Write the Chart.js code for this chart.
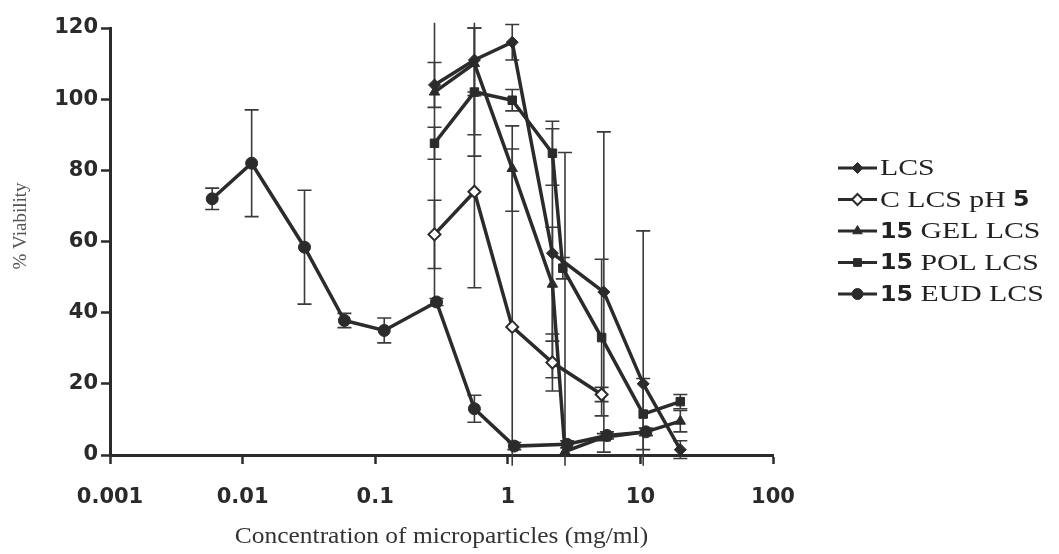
<!DOCTYPE html>
<html>
<head>
<meta charset="utf-8">
<script src="https://cdn.jsdelivr.net/npm/chart.js@4.4.0/dist/chart.umd.min.js"></script>
<style>
  html, body { margin: 0; padding: 0; background: #fff; }
  #wrap { width: 1059px; height: 554px; position: relative; }
</style>
</head>
<body>
<div id="wrap"><canvas id="viability"></canvas></div>
<script>
// concentration (mg/ml), % viability and error for each formulation
const lcsConc = [0.28, 0.56, 1.08, 2.17, 5.3, 10.5, 20];
const lcsVia  = [104, 111, 116, 56.7, 45.8, 20, 1.5];
const lcsErr  = [6.3, 9, 5, 35, 45, 43, 2.5];

const clcsConc = [0.28, 0.56, 1.08, 2.17, 5.1];
const clcsVia  = [62, 74, 36, 26, 17];
const clcsErr  = [9.6, 27, 50, 8, 2];

const gelConc = [0.28, 0.56, 1.08, 2.17, 2.7, 5.3, 11, 20];
const gelVia  = [102, 110, 80.5, 48, 1, 5, 6.5, 9.5];
const gelErr  = [60, 20, 12, 16, 84, 1, 1, 3];

const polConc = [0.28, 0.56, 1.08, 2.17, 2.6, 5.1, 10.5, 20];
const polVia  = [87.6, 102, 99.7, 84.8, 52.5, 33, 11.5, 15];
const polErr  = [4.5, 18, 3, 9, 3, 22, 10, 2];

const eudConc = [0.0059, 0.0117, 0.0293, 0.0586, 0.117, 0.29, 0.56, 1.12, 2.8, 5.6, 11];
const eudVia  = [72, 82, 58.4, 37.8, 35, 43, 13, 2.5, 3, 5.5, 6.5];
const eudErr  = [3, 15, 16, 2, 3.5, 1, 3.8, 1, 1, 1, 1];

const xTicks = [0.001, 0.01, 0.1, 1, 10, 100];
const xTickLabels = ["0.001", "0.01", "0.1", "1", "10", "100"];
const xTitle = "Concentration of microparticles (mg/ml)";
const yTitle = "% Viability";

const ink = "#2b2b2b";
const serif = "'Liberation Serif', 'Times New Roman', serif";
const sans = "'DejaVu Sans', Verdana, sans-serif";

function pts(xs, ys) {
  return xs.map((x, i) => ({ x: x, y: ys[i] }));
}

function series(label, xs, ys, errs, style, open) {
  return {
    label: label,
    data: pts(xs, ys),
    errors: errs,
    borderColor: ink,
    backgroundColor: open ? "#fff" : ink,
    borderWidth: 3.5,
    pointStyle: style,
    pointRadius: 6,
    pointBorderWidth: open ? 2 : 1,
    pointBorderColor: ink,
    pointBackgroundColor: open ? "#fff" : ink,
    tension: 0,
    clip: false
  };
}

// legend text pieces: [text, isBoldSans]
const legendParts = [
  [["LCS", false]],
  [["C LCS pH ", false], ["5", true]],
  [["15", true], [" GEL LCS", false]],
  [["15", true], [" POL LCS", false]],
  [["15", true], [" EUD LCS", false]]
];

// the scanned figure's lettering is a little wider than a normal font
function wideText(ctx, text, x, y, sx) {
  ctx.save();
  ctx.translate(x, y);
  ctx.scale(sx, 1);
  ctx.fillText(text, 0, 0);
  ctx.restore();
  return ctx.measureText(text).width * sx;
}

const errorBars = {
  id: "errorBars",
  beforeDatasetsDraw(chart) {
    const ctx = chart.ctx;
    const ys = chart.scales.y;
    const top = ys.getPixelForValue(121.5);
    const bottom = ys.getPixelForValue(-3);
    ctx.save();
    ctx.strokeStyle = "#3a3a3a";
    ctx.lineWidth = 1.6;
    chart.data.datasets.forEach((ds, di) => {
      const meta = chart.getDatasetMeta(di);
      meta.data.forEach((pt, i) => {
        const v = ds.data[i].y, e = ds.errors[i];
        let y1 = ys.getPixelForValue(v + e);
        let y2 = ys.getPixelForValue(v - e);
        const capTop = y1 >= top, capBot = y2 <= bottom;
        y1 = Math.max(y1, top);
        y2 = Math.min(y2, bottom);
        ctx.beginPath();
        ctx.moveTo(pt.x, y1);
        ctx.lineTo(pt.x, y2);
        if (capTop) { ctx.moveTo(pt.x - 7, y1); ctx.lineTo(pt.x + 7, y1); }
        if (capBot) { ctx.moveTo(pt.x - 7, y2); ctx.lineTo(pt.x + 7, y2); }
        ctx.stroke();
      });
    });
    ctx.restore();
  }
};

const labelsAndLegend = {
  id: "labelsAndLegend",
  afterDraw(chart) {
    const ctx = chart.ctx;
    const area = chart.chartArea;
    ctx.save();

    // axis titles
    ctx.textAlign = "left";
    ctx.textBaseline = "middle";
    ctx.fillStyle = "#333";
    ctx.font = "24px " + serif;
    const tw = ctx.measureText(xTitle).width * 1.06;
    wideText(ctx, xTitle, (area.left + area.right) / 2 - tw / 2, 537, 1.06);

    ctx.save();
    ctx.translate(21, 226);
    ctx.rotate(-Math.PI / 2);
    ctx.fillStyle = "#555";
    ctx.font = "19px " + serif;
    ctx.textAlign = "center";
    ctx.fillText(yTitle, 0, 0);
    ctx.restore();

    // legend
    const x0 = 838, x1 = 877, rowY = 168, gap = 31.5;
    chart.data.datasets.forEach((ds, i) => {
      const y = rowY + i * gap;
      ctx.strokeStyle = ink;
      ctx.lineWidth = 3;
      ctx.beginPath();
      ctx.moveTo(x0, y);
      ctx.lineTo(x1, y);
      ctx.stroke();
      ctx.fillStyle = ds.pointBackgroundColor;
      ctx.lineWidth = ds.pointBorderWidth;
      Chart.helpers.drawPoint(ctx, { pointStyle: ds.pointStyle, radius: 5.5, rotation: 0, borderWidth: ds.pointBorderWidth }, (x0 + x1) / 2, y);
      let tx = x1 + 3;
      ctx.fillStyle = "#222";
      ctx.textAlign = "left";
      ctx.textBaseline = "middle";
      legendParts[i].forEach(([t, bold]) => {
        ctx.font = bold ? "bold 22px " + sans : "24px " + serif;
        tx += wideText(ctx, t, tx, y + 1, bold ? 1.08 : 1.24);
      });
    });
    ctx.restore();
  }
};

new Chart(document.getElementById("viability"), {
  type: "line",
  data: {
    datasets: [
      series("LCS", lcsConc, lcsVia, lcsErr, "rectRot", false),
      series("C LCS pH 5", clcsConc, clcsVia, clcsErr, "rectRot", true),
      series("15 GEL LCS", gelConc, gelVia, gelErr, "triangle", false),
      series("15 POL LCS", polConc, polVia, polErr, "rect", false),
      series("15 EUD LCS", eudConc, eudVia, eudErr, "circle", false)
    ]
  },
  options: {
    responsive: true,
    maintainAspectRatio: false,
    animation: false,
    layout: { padding: { top: 28, right: 286, left: 0, bottom: 0 } },
    plugins: { legend: { display: false }, tooltip: { enabled: false } },
    scales: {
      x: {
        type: "logarithmic",
        min: 0.001,
        max: 100,
        afterBuildTicks: s => { s.ticks = xTicks.map(v => ({ value: v })); },
        afterFit: s => { s.height = 99; },
        border: { display: true, color: ink, width: 3 },
        grid: { drawOnChartArea: false, drawTicks: true, tickLength: 9, tickColor: ink, tickWidth: 2.5 },
        ticks: {
          autoSkip: false, maxRotation: 0, padding: 21, color: "#2a2a2a",
          font: { family: sans, size: 21, weight: "bold" },
          callback: (v, i) => xTickLabels[i]
        }
      },
      y: {
        min: 0,
        max: 120,
        afterFit: s => { s.width = 110; },
        border: { display: true, color: ink, width: 3 },
        grid: { drawOnChartArea: false, drawTicks: true, tickLength: 9, tickColor: ink, tickWidth: 2.5 },
        ticks: {
          stepSize: 20, padding: 3, color: "#2a2a2a",
          font: { family: sans, size: 21, weight: "bold" }
        }
      }
    }
  },
  plugins: [errorBars, labelsAndLegend]
});
</script>
</body>
</html>
